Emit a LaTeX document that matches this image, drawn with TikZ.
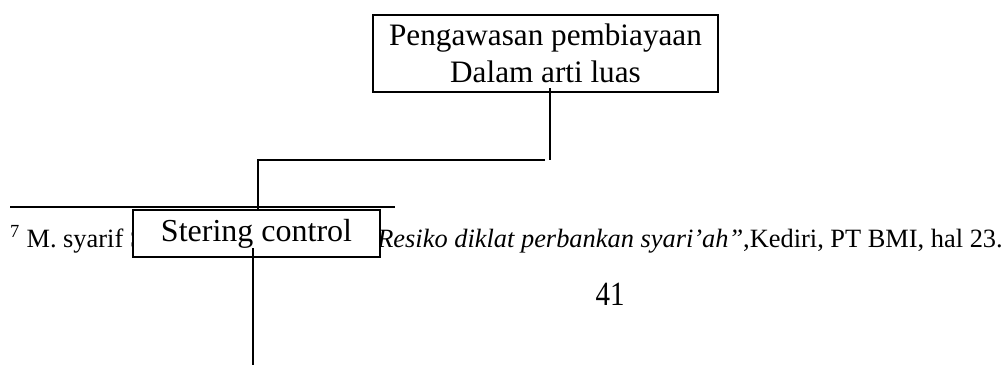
\documentclass[tikz,border=0pt]{standalone}
\usepackage{fontspec}
\setmainfont{Liberation Serif}
\usetikzlibrary{calc}

\begin{document}
\begin{tikzpicture}[x=1pt,y=-1pt]

\tikzstyle{block} = [draw, line width=1.5, fill=white, inner sep=0, align=center]
\tikzstyle{link} = [line width=1.5]
\tikzstyle{big} = [font=\fontsize{31.2}{37.5}\selectfont]
\tikzstyle{small} = [font=\fontsize{26.4}{30}\selectfont, inner sep=0]

\useasboundingbox (0,0) rectangle (1006,365);


\node [block, big, minimum width=345, minimum height=77] (pengawasan) at (545.5,53.5) {Pengawasan pembiayaan\\ Dalam arti luas};


\node [small, anchor=base west] (catatan) at (10,247) {\textsuperscript{7} M. syarif S};
\node [small, anchor=base east] (sumber) at (1003,247) {\textit{Resiko diklat perbankan syari’ah”},Kediri, PT BMI, hal 23.};
\draw [line width=1.8] (10,207) -- (395,207);

\node [block, font=\fontsize{32}{39}\selectfont, minimum width=247, minimum height=47] (stering) at (256.5,233.5) {Stering control};

\node [font=\fontsize{29}{35}\selectfont, anchor=base] (halaman) at (610,305.5) {\scalebox{1}[1.17]{41}};



\coordinate (t1) at (550,88);
\coordinate (t2) at (550,160);
\coordinate (t3) at (545,160);
\coordinate (t4) at (258,160);
\coordinate (b1) at (253,248);
\coordinate (b2) at (253,365);

\draw [link] (t1) -- (t2);
\draw [link] (t3) -- (t4) -- (t4 |- stering.north);
\draw [link] (b1) -- (b2);

\end{tikzpicture}
\end{document}
